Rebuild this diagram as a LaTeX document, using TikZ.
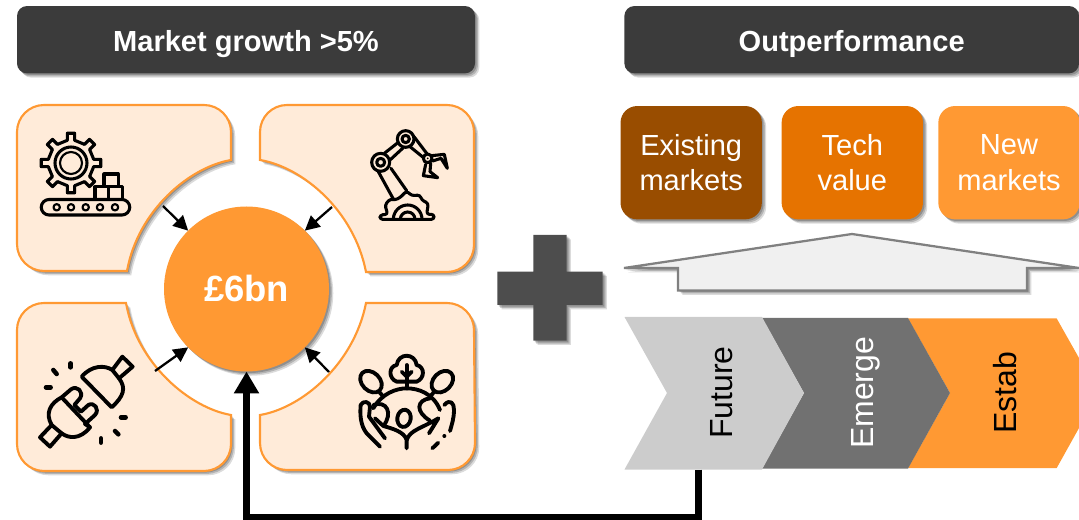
\documentclass[tikz,border=0pt]{standalone}
\usepackage{fontspec}
\setmainfont{Liberation Sans}
\usetikzlibrary{shadows,arrows.meta}

\definecolor{headfill}{HTML}{3B3B3B}
\definecolor{petalfill}{HTML}{FFEBD9}
\definecolor{orangemain}{HTML}{FF9933}
\definecolor{orangemid}{HTML}{E67300}
\definecolor{orangedark}{HTML}{994D00}
\definecolor{plusfill}{HTML}{4D4D4D}
\definecolor{chevlight}{HTML}{CCCCCC}
\definecolor{chevdark}{HTML}{717171}

\tikzset{
softshadow/.style={
general shadow={shadow xshift=1.2pt,shadow yshift=-1.2pt,fill=black,opacity=.2},
general shadow={shadow xshift=2.2pt,shadow yshift=-2.2pt,fill=black,opacity=.18},
general shadow={shadow xshift=3.2pt,shadow yshift=-3.2pt,fill=black,opacity=.14}},
headbox/.style={draw=none, fill=headfill, text=white, rounded corners=7.5pt, minimum width=343.5pt, minimum height=50.5pt, inner sep=0, text height=18pt, text depth=0pt, font=\fontsize{21.8}{24}\selectfont\bfseries, softshadow},
topbox/.style={fill=#1, rounded corners=12.5pt, minimum width=106pt, minimum height=85pt, inner sep=0, align=center, font=\fontsize{21.8}{26.8}\selectfont, softshadow},
petal/.style={draw=orangemain, fill=petalfill, line width=1.6pt, softshadow},
chevtext/.style={rotate=90, inner sep=0, text height=17pt, text depth=0pt, font=\fontsize{24}{26}\selectfont},
iconline/.style={draw=black, line width=2.3pt, line cap=round, line join=round},
iconbold/.style={iconline, line width=2.9pt},
smallarrow/.style={draw=black, line width=1.7pt, -{Triangle[width=11pt,length=11pt]}},
thickarrow/.style={draw=black, line width=5.25pt, -{Triangle[width=18pt,length=16.5pt]}}
}

\begin{document}
\begin{tikzpicture}[x=0.75pt,y=-0.75pt]
\useasboundingbox (0,0) rectangle (1079,520);

% headers
\node[headbox] (head_market) at (246,39.7) {Market growth >5\%};
\node[headbox, minimum width=341pt] (head_out) at (851.7,39.7) {Outperformance};

% petals
\path[petal] (44,105) -- (204,105) arc[start angle=-90,end angle=0,radius=27] -- (231,160) .. controls (190,167) and (138,210) .. (127,271) -- (44,271) arc[start angle=90,end angle=180,radius=27] -- (17,132) arc[start angle=180,end angle=270,radius=27] -- cycle;
\path[petal] (287,105) -- (447,105) arc[start angle=-90,end angle=0,radius=27] -- (474,245) arc[start angle=0,end angle=90,radius=27] -- (366,272) .. controls (354,210) and (302,167) .. (260,160) -- (260,132) arc[start angle=180,end angle=270,radius=27] -- cycle;
\path[petal] (44,303) -- (126,303) .. controls (137,364) and (190,408) .. (231,415) -- (231,444) arc[start angle=0,end angle=90,radius=27] -- (44,471) arc[start angle=90,end angle=180,radius=27] -- (17,330) arc[start angle=180,end angle=270,radius=27] -- cycle;
\path[petal] (366,303) -- (447,303) arc[start angle=-90,end angle=0,radius=27] -- (475,443) arc[start angle=0,end angle=90,radius=27] -- (287,470) arc[start angle=90,end angle=180,radius=27] -- (260,415) .. controls (302,408) and (354,364) .. (366,303) -- cycle;

% hub
\node[circle, fill=orangemain, text=white, minimum size=123.75pt, inner sep=0, outer sep=0, text height=19.5pt, text depth=0pt, font=\fontsize{27.3}{30}\selectfont\bfseries, softshadow] (hub) at (246.5,289) {£6bn};

\coordinate (gear_out) at (163,206);
\coordinate (robot_out) at (332,207);
\coordinate (plug_out) at (155,371);
\coordinate (tree_out) at (329,372);
\draw[smallarrow] (gear_out) -- (hub.135);
\draw[smallarrow] (robot_out) -- (hub.45);
\draw[smallarrow] (plug_out) -- (hub.225);
\draw[smallarrow] (tree_out) -- (hub.315);

% gear icon
\begin{scope}[shift={(71,163)}]
\foreach \a in {0,45,...,315} {
\draw[iconline] (\a-9:23) -- (\a-7:30) -- (\a+7:30) -- (\a+9:23) -- (\a+36:23);
}
\draw[iconline] (0,0) circle (16);
\draw[iconline, line width=1.6pt] (0,0) circle (11);
\end{scope}
\draw[iconline] (49,199.5) -- (122,199.5) arc[start angle=-90,end angle=90,radius=7.75] -- (49,215) arc[start angle=90,end angle=270,radius=7.75] -- cycle;
\foreach \x in {56.7,71,85.7,100,115} {
\draw[iconline, line width=1.6pt] (\x,207.3) circle (3.2);
}
\draw[iconline] (95,199.5) rectangle (108.5,186.7);
\draw[iconline] (108.5,199.5) rectangle (122.7,186.7);
\draw[iconline] (104,186.7) rectangle (118.3,174);

% robot icon
\begin{scope}[shift={(365,125)},x=0.25pt,y=-0.25pt]
\draw[iconline] (47,112) circle (27);
\draw[iconline] (47,112) circle (12);
\draw[iconline] (122,42) circle (25);
\draw[iconline] (122,42) circle (11);
\draw[iconline] (188,100) circle (13);
\fill (188,100) circle (3);
\draw[iconline] (58,85) -- (100,52);
\draw[iconline] (75,105) -- (115,68);
\draw[iconline] (147,35) -- (185,85);
\draw[iconline] (135,65) -- (172,95);
\draw[iconline] (40,140) -- (85,222);
\draw[iconline] (78,130) -- (125,197);
\draw[iconline] (200,92) -- (238,88) -- (247,130) -- (228,100) -- (203,108);
\draw[iconline] (182,118) -- (175,152) -- (218,158) -- (195,140) -- (197,115);
\draw[iconline, rounded corners=2pt] (45,283) -- (45,270) -- (68,268) -- (60,240) -- (75,222) -- (90,225) -- (105,218) -- (125,198) -- (140,212) -- (165,210) -- (170,225) -- (190,235) -- (185,268) -- (207,268) -- (207,283) -- cycle;
\draw[iconline] (85,283) arc[start angle=180,end angle=360,radius=43];
\draw[iconline] (106,283) arc[start angle=180,end angle=360,radius=22];
\end{scope}

% plug icon
\begin{scope}[shift={(35,350)},x=0.25pt,y=-0.25pt]
\draw[iconbold] (140,80) .. controls (170,45) and (210,45) .. (232,60) -- (262,20) -- (293,50) -- (252,85) .. controls (275,115) and (265,140) .. (230,172) -- cycle;
\draw[iconbold] (232,60) -- (252,85);
\draw[iconbold] (50,225) -- (15,262) -- (45,290) -- (80,250) -- cycle;
\draw[iconbold] (50,225) .. controls (30,190) and (45,160) .. (80,142) -- (108,118) .. controls (125,105) and (148,125) .. (135,145) -- (118,165) -- (138,185) -- (160,165) .. controls (178,155) and (195,178) .. (180,195) -- (150,222) -- (165,232) .. controls (135,270) and (100,265) .. (80,250);
\draw[iconbold] (80,142) -- (165,232);
\foreach \xa/\ya/\xb/\yb in {55/60/65/72, 107/40/107/52, 33/112/47/112, 258/202/272/202, 240/243/250/253, 198/265/198/278} {
\draw[iconline, line width=3.4pt] (\xa,\ya) -- (\xb,\yb);
}
\end{scope}

% tree icon
\begin{scope}[shift={(355,350)},x=0.25pt,y=-0.25pt]
\draw[iconbold] (125,95) .. controls (100,85) and (100,50) .. (125,45) .. controls (130,8) and (180,8) .. (185,45) .. controls (210,50) and (210,85) .. (185,95) -- cycle;
\draw[iconbold] (155,45) -- (155,115);
\draw[iconbold] (140,65) -- (155,80) -- (170,65);
\draw[iconbold, rotate around={-45:(48,95)}] (48,95) ellipse [x radius=37,y radius=27];
\draw[iconbold, rotate around={45:(262,95)}] (262,95) ellipse [x radius=37,y radius=27];
\draw[iconbold] (72,125) -- (85,140);
\draw[iconbold] (238,125) -- (225,140);
\draw[iconbold] (55,175) .. controls (80,130) and (125,115) .. (155,115) .. controls (190,115) and (235,130) .. (255,180);
\draw[iconbold, rotate around={-10:(147,205)}] (147,205) ellipse [x radius=20,y radius=26];
\draw[iconbold] (55,165) .. controls (95,150) and (115,190) .. (85,228) -- (60,205);
\draw[iconbold] (225,145) .. controls (185,150) and (180,185) .. (225,212);
\draw[iconbold] (75,290) -- (35,250) .. controls (15,225) and (15,190) .. (17,165) .. controls (25,150) and (45,155) .. (45,170) -- (42,200) -- (90,265);
\draw[iconbold] (155,295) -- (155,270) .. controls (148,245) and (110,235) .. (85,228);
\draw[iconbold] (155,270) .. controls (165,240) and (200,235) .. (250,205) -- (222,250);
\draw[iconbold] (268,165) .. controls (285,145) and (298,160) .. (297,180) .. controls (297,205) and (290,225) .. (285,243);
\draw[iconbold] (232,295) -- (250,278);
\fill (268,258) circle (6);
\end{scope}

% plus
\path[fill=plusfill, softshadow] (533.3,235) -- (566.7,235) -- (566.7,271.7) -- (602.7,271.7) -- (602.7,305) -- (566.7,305) -- (566.7,340.7) -- (533.3,340.7) -- (533.3,305) -- (497.3,305) -- (497.3,271.7) -- (533.3,271.7) -- cycle;

% outperformance boxes
\node[topbox=orangedark, text=white] (box_existing) at (691.2,162.7) {Existing\\markets};
\node[topbox=orangemid, text=white] (box_tech) at (852.3,162.7) {Tech\\value};
\node[topbox=orangemain, text=white] (box_new) at (1009,162.7) {New\\markets};

% block arrow
\path[draw=black!50, fill=black!6, line width=1.7pt, miter limit=2, softshadow] (852,234) -- (1079,268) -- (1027,268) -- (1027,290.5) -- (678,290.5) -- (678,268) -- (624,268) -- cycle;

% chevrons
\path[fill=orangemain] (908,318.5) -- (1056.7,318.5) -- (1079,358) -- (1079,428) -- (1056.7,468) -- (908,468) -- (950,393) -- cycle;
\path[fill=chevdark] (762,318) -- (908,318) -- (950,393) -- (908,468.5) -- (762,468.5) -- (804,393) -- cycle;
\path[fill=chevlight] (624.5,317) -- (762,317) -- (804,393) -- (762,469.5) -- (624.5,469.5) -- (667,393) -- cycle;
\node[chevtext, text=black] (lab_future) at (721,392.5) {Future};
\node[chevtext, text=white] (lab_emerge) at (862,392.8) {Emerge};
\node[chevtext, text=black] (lab_estab) at (1005.4,393) {Estab};

% feedback
\coordinate (fut_out) at (698.5,469.5);
\coordinate (fut_low) at (698.5,517);
\draw[thickarrow] (fut_out) -- (fut_low) -| (hub.south);

\end{tikzpicture}
\end{document}
